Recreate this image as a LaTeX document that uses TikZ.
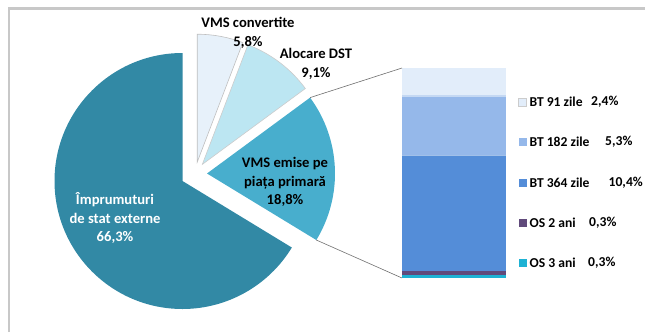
\documentclass[tikz,border=0pt]{standalone}
\usepackage{fontspec}
\setmainfont{Carlito}
\usetikzlibrary{positioning}

\definecolor{framegray}{RGB}{200,200,200}
\definecolor{linkgray}{RGB}{110,110,110}
\definecolor{imprcol}{RGB}{50,137,165}
\definecolor{emiscol}{RGB}{72,174,205}
\definecolor{aloccol}{RGB}{188,230,242}
\definecolor{convcol}{RGB}{231,241,250}
\definecolor{btnine}{RGB}{226,237,250}
\definecolor{btone}{RGB}{149,184,234}
\definecolor{btthree}{RGB}{84,141,216}
\definecolor{ostwo}{RGB}{96,74,123}
\definecolor{osthree}{RGB}{30,178,212}

\begin{document}
\begin{tikzpicture}[x=1pt, y=1pt, font=\bfseries\fontsize{14.6}{18.5}\selectfont,
    lbl/.style={align=center, inner sep=0pt},
    key/.style={minimum width=8pt, minimum height=8pt, inner sep=0pt, outer sep=0pt},
    keytext/.style={anchor=west, inner sep=0pt, font=\bfseries\fontsize{13.6}{16}\selectfont},
    gloss/.style={white, opacity=0.45, line width=1.4pt},
    link/.style={draw=linkgray, line width=0.6pt}]
    \useasboundingbox (0,0) rectangle (645,-332);
    % frame of the chart area
    \draw[framegray, line width=2.5pt] (9,-332) -- (9,-8.5) -- (645,-8.5);

    % pie slices, each pulled out from the centre
    \filldraw[fill=convcol, draw=black!25, line width=0.6pt] (197.2,-162.2) -- ++(90:128) arc[start angle=90, end angle=69.12, radius=128] -- cycle;
    \filldraw[fill=aloccol, draw=black!20, line width=0.6pt] (202.3,-164.4) -- ++(69.12:128) arc[start angle=69.12, end angle=36.36, radius=128] -- cycle;
    \fill[emiscol] (207,-173.5) -- ++(36.36:128) arc[start angle=36.36, end angle=-31.32, radius=128] -- cycle;
    \fill[imprcol] (182.5,-181) -- ++(90:128) arc[start angle=90, end angle=328.68, radius=128] -- cycle;

    \coordinate (emtop) at (310.1,-97.6);
    \coordinate (embot) at (316.3,-240);

    \node[lbl] (convl) at (248,-33) {VMS convertite\\5,8\%};
    \node[lbl] (alocl) at (316,-64) {Alocare DST\\9,1\%};
    \node[lbl] (emisl) at (285,-182) {VMS emise pe\\piața primară\\18,8\%};
    \node[lbl, text=white] (imprl) at (115,-218) {Împrumuturi\\de stat externe\\66,3\%};

    % stacked bar
    \fill[osthree] (402,-278) rectangle (506,-274.6);
    \fill[ostwo] (402,-274.6) rectangle (506,-271.3);
    \fill[btthree] (402,-271.3) rectangle (506,-154.5);
    \fill[btone] (402,-154.5) rectangle (506,-94.9);
    \fill[btnine] (402,-94.9) rectangle (506,-68);
    \draw[gloss] (402,-155.4) -- (506,-155.4);
    \draw[gloss] (402,-95.8) -- (506,-95.8);

    \coordinate (bartop) at (402,-68);
    \coordinate (barbot) at (402,-278);
    \draw[link] (emtop) -- (bartop);
    \draw[link] (embot) -- (barbot);

    % legend
    \node[key, fill=btnine, draw=black!20, line width=0.4pt] (k1) at (522.5,-102) {};
    \node[key, fill=btone] (k2) at (522.5,-142) {};
    \node[key, fill=btthree] (k3) at (522.5,-183) {};
    \node[key, fill=ostwo] (k4) at (522.5,-223) {};
    \node[key, fill=osthree] (k5) at (522.5,-263) {};
    \node[keytext, right=3pt of k1] (t1) {BT 91 zile};
    \node[keytext, right=3pt of k2] (t2) {BT 182 zile};
    \node[keytext, right=3pt of k3] (t3) {BT 364 zile};
    \node[keytext, right=3pt of k4] (t4) {OS 2 ani};
    \node[keytext, right=3pt of k5] (t5) {OS 3 ani};
    \node[keytext] (v1) at (591,-102) {2,4\%};
    \node[keytext] (v2) at (605,-142) {5,3\%};
    \node[keytext, anchor=east] (v3) at (643,-183) {10,4\%};
    \node[keytext] (v4) at (589,-223) {0,3\%};
    \node[keytext] (v5) at (588,-263) {0,3\%};
\end{tikzpicture}
\end{document}
